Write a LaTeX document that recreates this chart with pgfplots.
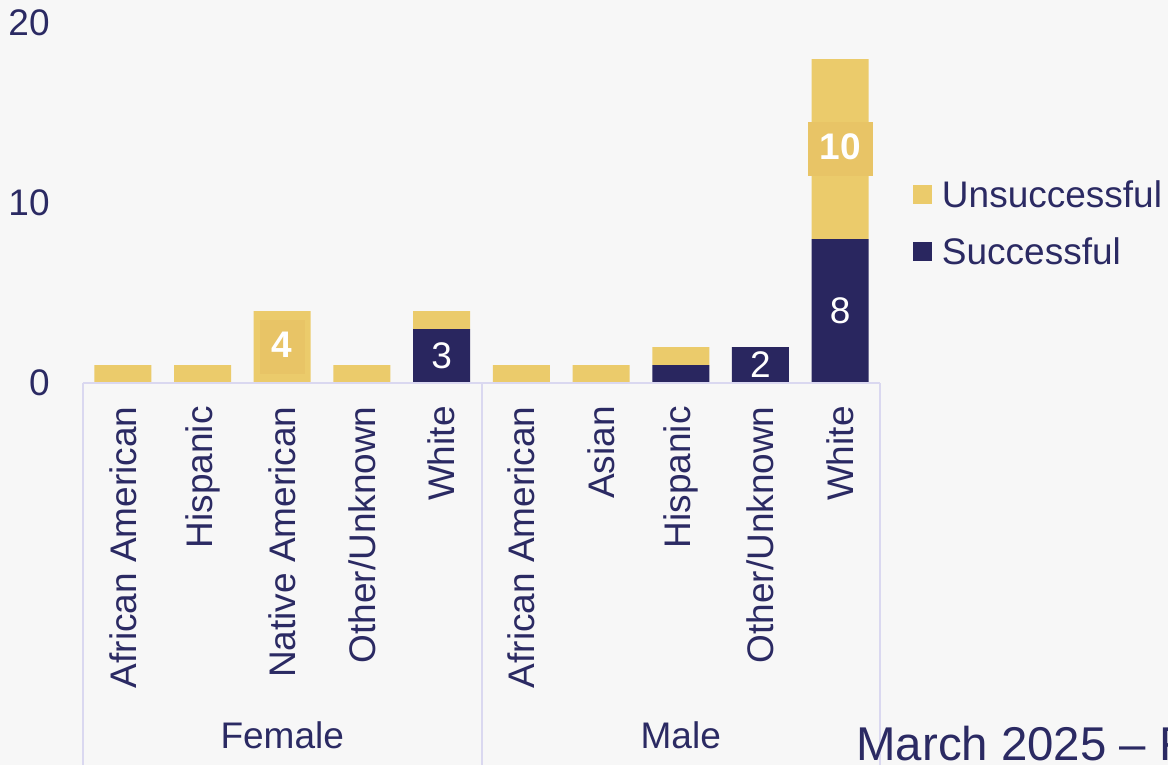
\documentclass[border=0pt]{standalone}
\usepackage{fontspec}
\setmainfont{Liberation Sans}
\usepackage{pgfplots}
\usepackage{pgfplotstable}
\pgfplotsset{compat=1.18}
\definecolor{navybar}{HTML}{29265F}
\definecolor{goldbar}{HTML}{EBCB6B}
\definecolor{goldbox}{HTML}{E8C466}
\definecolor{txt}{HTML}{2B2A63}
\definecolor{gridl}{HTML}{DAD8F0}
\definecolor{bg}{HTML}{F7F7F7}

% 0-4 Female: African American, Hispanic, Native American, Other/Unknown, White
% 5-9 Male: African American, Asian, Hispanic, Other/Unknown, White
\pgfplotstableread{
x y lab
0 0 0
1 0 0
2 0 0
3 0 0
4 3 3
5 0 0
6 0 0
7 1 0
8 2 2
9 8 8
}\succtab
\pgfplotstableread{
x y lab
0 1 0
1 1 0
2 4 4
3 1 0
4 1 0
5 1 0
6 1 0
7 1 0
8 0 0
9 10 10
}\unsucctab

\begin{document}
\fontsize{18.5}{22}\selectfont
\begin{tikzpicture}
\path[use as bounding box, fill=bg] (-41.5pt,-191pt) rectangle (542.5pt,191.5pt);
\clip (-41.5pt,-191pt) rectangle (542.5pt,191.5pt);
\begin{axis}[
  at={(0,0)}, anchor=south west,
  scale only axis, width=398.5pt, height=180pt,
  xmin=-0.5, xmax=9.5, ymin=0, ymax=20,
  ybar stacked, bar width=28.5pt,
  axis line style={draw=none},
  major tick length=0pt,
  ytick={0,10,20},
  xtick={0,...,9},
  xticklabels={African American, Hispanic, Native American, Other/Unknown, White, African American, Asian, Hispanic, Other/Unknown, White},
  xticklabel style={rotate=90, anchor=east, inner sep=0pt, xshift=-11.5pt},
  yticklabel style={anchor=east, inner sep=0pt, xshift=-16.5pt},
  tick label style={text=txt},
  /pgf/number format/assume math mode=true,
  clip=false,
  reverse legend,
  legend cell align=left,
  legend image code/.code={\fill[#1] (0pt,-4.75pt) rectangle (9.5pt,4.75pt);},
  legend style={at={(1.0414,0.4458)}, anchor=west, draw=none, fill=none,
    inner sep=0pt, outer sep=0pt, row sep=15.5pt, column sep=5pt,
    nodes={inner sep=0pt, text height=13pt, text depth=0pt, text=txt}},
]
\draw[gridl, line width=1pt] (axis cs:-0.5,0) -- (axis cs:9.5,0);
\draw[gridl, line width=1pt] (axis cs:-0.5,0) -- ([yshift=-200pt]axis cs:-0.5,0);
\draw[gridl, line width=1pt] (axis cs:4.5,0) -- ([yshift=-200pt]axis cs:4.5,0);
\draw[gridl, line width=1pt] (axis cs:9.5,0) -- ([yshift=-200pt]axis cs:9.5,0);

\addplot[fill=navybar, draw=none,
  point meta=explicit symbolic,
  nodes near coords={\ifnum\pgfplotspointmeta>0 \pgfplotspointmeta\fi},
  every node near coord/.append style={text=white, anchor=center, inner sep=0pt},
] table[x=x,y=y,meta=lab]{\succtab};
\addlegendentry{Successful}

\addplot[fill=goldbar, draw=none,
  point meta=explicit symbolic,
  nodes near coords={\ifnum\pgfplotspointmeta>0 \setlength{\fboxsep}{6pt}\colorbox{goldbox}{\bfseries\rule[-2pt]{0pt}{14.8pt}\pgfplotspointmeta}\fi},
  every node near coord/.append style={text=white, anchor=center, inner sep=0pt},
] table[x=x,y=y,meta=lab]{\unsucctab};
\addlegendentry{Unsuccessful}

\node[text=txt, anchor=base, inner sep=0pt, yshift=-182.5pt] at (axis cs:2,0) {Female};
\node[text=txt, anchor=base, inner sep=0pt, yshift=-182.5pt] at (axis cs:7,0) {Male};
\end{axis}
\node[anchor=base west, text=txt, font=\fontsize{23.7}{28}\selectfont, inner sep=0pt] at (386.5pt,-188.5pt) {March 2025 – February 2026};
\end{tikzpicture}
\end{document}
